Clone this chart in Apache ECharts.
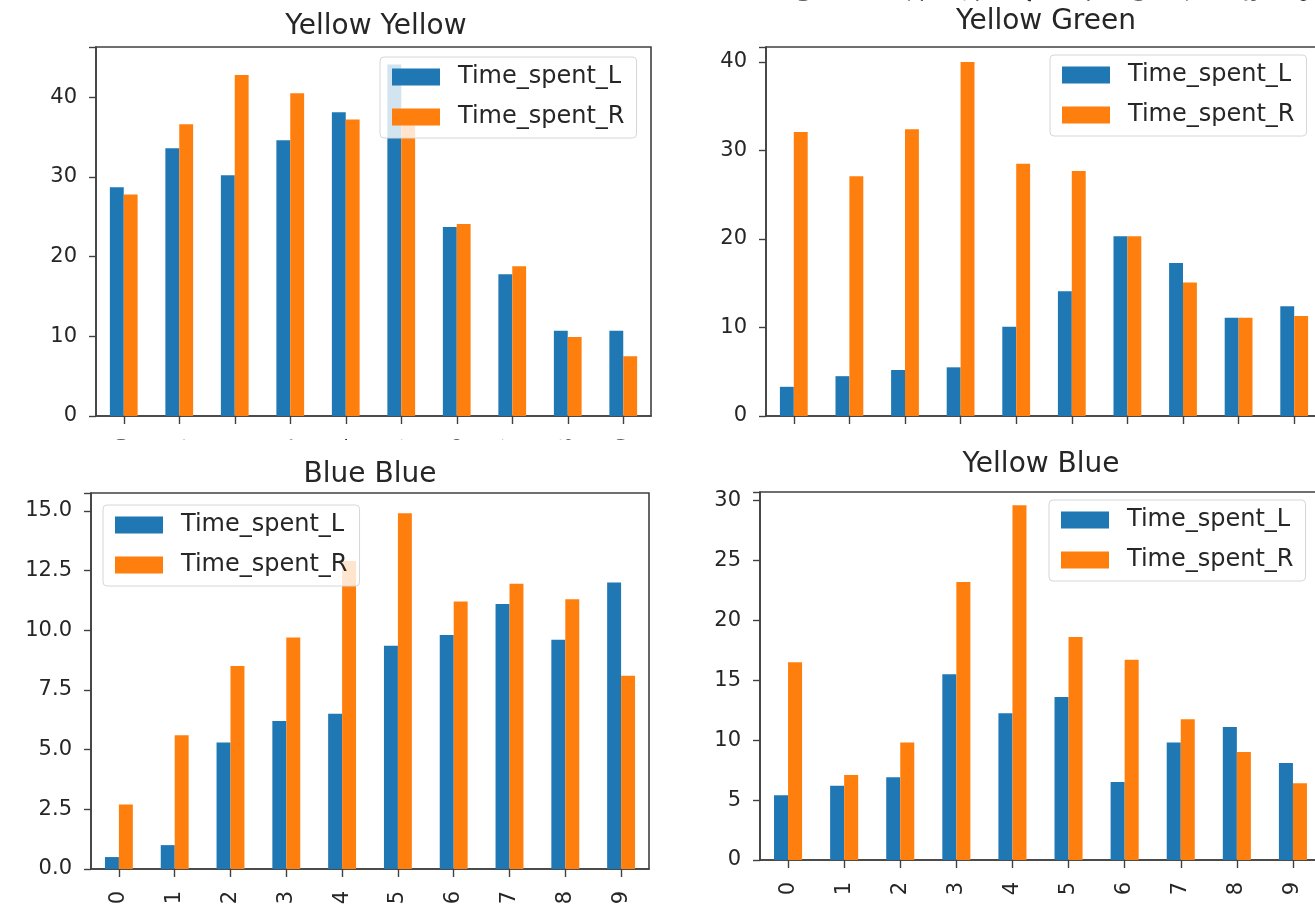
<!DOCTYPE html>
<html>
<head>
<meta charset="utf-8">
<script src="https://cdn.jsdelivr.net/npm/echarts@6/dist/echarts.min.js"></script>
<style>
  html, body { margin: 0; padding: 0; background: #ffffff; }
  #chart { width: 1315px; height: 904px; }
</style>
</head>
<body>
<div id="chart"></div>
<script>
// Trial index on the x axis
const categories = ['0', '1', '2', '3', '4', '5', '6', '7', '8', '9'];
const seriesNames = ['Time_spent_L', 'Time_spent_R'];

// Yellow / Yellow
const yellowYellowL = [28.7, 33.6, 30.2, 34.6, 38.1, 44.1, 23.7, 17.8, 10.7, 10.7];
const yellowYellowR = [27.8, 36.6, 42.8, 40.5, 37.2, 37.0, 24.1, 18.8, 9.9, 7.5];

// Yellow / Green
const yellowGreenL = [3.3, 4.5, 5.2, 5.5, 10.1, 14.1, 20.3, 17.3, 11.1, 12.4];
const yellowGreenR = [32.1, 27.1, 32.4, 40.0, 28.5, 27.7, 20.3, 15.1, 11.1, 11.3];

// Blue / Blue
const blueBlueL = [0.5, 1.0, 5.3, 6.2, 6.5, 9.35, 9.8, 11.1, 9.6, 12.0];
const blueBlueR = [2.7, 5.6, 8.5, 9.7, 12.9, 14.9, 11.2, 11.95, 11.3, 8.1];

// Yellow / Blue
const yellowBlueL = [5.4, 6.2, 6.9, 15.5, 12.25, 13.6, 6.5, 9.8, 11.1, 8.1];
const yellowBlueR = [16.5, 7.1, 9.8, 23.2, 29.6, 18.6, 16.7, 11.75, 9.0, 6.4];

const COLOR_L = '#1f77b4';
const COLOR_R = '#ff7f0e';
const INK = '#262626';
const FRAME = '#404040';
const FONT = '"DejaVu Sans", Verdana, sans-serif';

const panels = [
  { title: 'Yellow Yellow', left: yellowYellowL, right: yellowYellowR,
    grid: { left: 96, top: 47, width: 555, height: 369 },
    yMax: 46.3, interval: 10, decimals: 0,
    titleAt: { x: 376, y: 13 }, legendAt: { x: 380, y: 57 } },
  { title: 'Yellow Green', left: yellowGreenL, right: yellowGreenR,
    grid: { left: 766, top: 47, width: 556, height: 369 },
    yMax: 41.7, interval: 10, decimals: 0,
    titleAt: { x: 1046, y: 8 }, legendAt: { x: 1050, y: 55 } },
  { title: 'Blue Blue', left: blueBlueL, right: blueBlueR,
    grid: { left: 91, top: 493, width: 558, height: 376 },
    yMax: 15.75, interval: 2.5, decimals: 1,
    titleAt: { x: 370, y: 461 }, legendAt: { x: 103, y: 505 } },
  { title: 'Yellow Blue', left: yellowBlueL, right: yellowBlueR,
    grid: { left: 760, top: 492, width: 561, height: 368 },
    yMax: 30.7, interval: 5, decimals: 0,
    titleAt: { x: 1041, y: 451 }, legendAt: { x: 1049, y: 500 } }
];

const grids = [], xAxes = [], yAxes = [], series = [], titles = [], legends = [];

panels.forEach((p, i) => {
  grids.push(Object.assign({
    show: true, borderColor: FRAME, borderWidth: 1.6,
    backgroundColor: 'transparent', containLabel: false, outerBoundsMode: 'none'
  }, p.grid));

  xAxes.push({
    type: 'category', gridIndex: i, data: categories, boundaryGap: true,
    axisLine: { show: true, lineStyle: { color: FRAME, width: 1.6 } },
    axisTick: { show: true, alignWithLabel: true, length: 8, lineStyle: { color: FRAME, width: 1.4 } },
    axisLabel: { show: true, rotate: 90, margin: 22, fontSize: 21, color: INK, fontFamily: FONT, interval: 0 },
    splitLine: { show: false }
  });

  yAxes.push({
    type: 'value', gridIndex: i, min: 0, max: p.yMax, interval: p.interval,
    axisLine: { show: true, lineStyle: { color: FRAME, width: 1.6 } },
    axisTick: { show: true, length: 7, lineStyle: { color: FRAME, width: 1.4 } },
    axisLabel: {
      fontSize: 21, color: INK, fontFamily: FONT, margin: 19,
      formatter: (v) => {
        const k = v / p.interval;
        return Math.abs(k - Math.round(k)) < 1e-6 ? v.toFixed(p.decimals) : '';
      }
    },
    splitLine: { show: false }
  });

  series.push({
    type: 'bar', name: seriesNames[0], xAxisIndex: i, yAxisIndex: i,
    data: p.left, barWidth: '25%', barGap: '0%',
    itemStyle: { color: COLOR_L }
  });
  series.push({
    type: 'bar', name: seriesNames[1], xAxisIndex: i, yAxisIndex: i,
    data: p.right, barWidth: '25%', barGap: '0%',
    itemStyle: { color: COLOR_R }
  });

  titles.push({
    text: p.title, left: p.titleAt.x, top: p.titleAt.y, textAlign: 'center', padding: 0,
    zlevel: 1, z: 10,
    textStyle: { fontSize: 28, fontWeight: 'normal', color: INK, fontFamily: FONT }
  });

  legends.push({
    data: seriesNames, orient: 'vertical', left: p.legendAt.x, top: p.legendAt.y,
    zlevel: 1, z: 8,
    selectedMode: false, icon: 'rect', itemWidth: 48, itemHeight: 17, itemGap: 12,
    padding: [6, 12, 7, 12],
    backgroundColor: 'rgba(255,255,255,0.8)', borderColor: '#d6d6d6', borderWidth: 1, borderRadius: 4,
    textStyle: { fontSize: 24, color: INK, fontFamily: FONT, padding: [0, 0, 0, 13], lineHeight: 28 }
  });
});

// Tick labels of the row above, which sits outside the page: only their lower ends show
grids.push({ left: 778, top: -119, width: 558, height: 100, show: false, containLabel: false, outerBoundsMode: 'none' });
xAxes.push({
  type: 'category', gridIndex: 4, data: categories,
  axisLine: { show: false }, axisTick: { show: false },
  axisLabel: { rotate: 90, margin: 8, fontSize: 21, color: INK, fontFamily: FONT, interval: 0 }
});
yAxes.push({ type: 'value', gridIndex: 4, show: false });

const chart = echarts.init(document.getElementById('chart'), null, { renderer: 'canvas' });
chart.setOption({
  animation: false,
  backgroundColor: '#ffffff',
  title: titles,
  legend: legends,
  grid: grids,
  xAxis: xAxes,
  yAxis: yAxes,
  series: series,
  // The lower row is laid over the upper row's tick labels
  graphic: [
    { type: 'rect', zlevel: 1, z: 1, silent: true, shape: { x: 60, y: 440, width: 625, height: 50 }, style: { fill: '#ffffff' } },
    { type: 'rect', zlevel: 1, z: 1, silent: true, shape: { x: 700, y: 428, width: 615, height: 62 }, style: { fill: '#ffffff' } }
  ]
});
</script>
</body>
</html>
